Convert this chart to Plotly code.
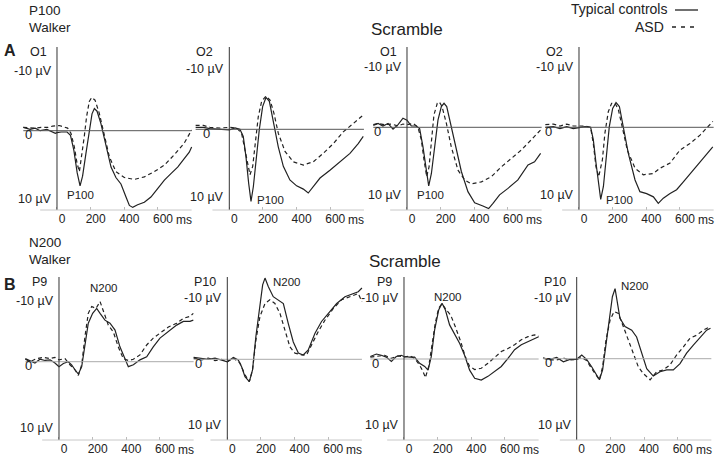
import plotly.graph_objects as go

W, H = 720, 457
FONT = "Liberation Sans, Arial, sans-serif"
INK = "#222222"

# ERP waveforms: time in ms, amplitude in µV (negative is drawn up)
# --- A: P100, occipital ---
a1_tc_ms = [-200, -160, -130, -100, -60, -30, -10, 0, 25, 60, 80, 100, 120, 137, 152, 172, 192, 208, 222, 238, 261,
            291, 321, 350, 380, 410, 430, 450, 479, 519, 558, 598, 638, 677, 717, 756, 786, 800]
a1_tc_uv = [-0.5, -0.2, -0.4, 0.0, -0.2, 0.2, 0.4, 0.3, 0.2, 0.2, 0.7, 3.0, 6.5, 8.5, 7.0, 3.5, 0.0, -2.6, -3.4, -3.0, -1.1,
            2.5, 5.6, 7.2, 8.2, 10.2, 11.5, 11.8, 11.4, 11.0, 10.2, 8.9, 7.6, 6.6, 5.6, 4.3, 3.3, 2.5]
a1_asd_ms = [-200, -135, -95, -55, -26, 14, 63, 83, 103, 119, 133, 146, 162, 176, 192, 206, 226, 251, 281, 311, 350,
             400, 459, 519, 578, 638, 697, 756, 800]
a1_asd_uv = [-0.5, -0.4, -0.5, -0.5, -0.7, -0.8, -0.4, 0.4, 2.5, 5.0, 6.3, 4.0, 0.9, -2.2, -4.5, -5.1, -4.7, -2.7, 0.9,
             4.0, 6.3, 7.2, 7.5, 7.1, 6.3, 5.3, 3.7, 1.9, -0.1]

a2_tc_ms = [-200, -154, -115, -75, -36, 0, 34, 63, 83, 99, 115, 129, 143, 158, 178, 198, 218, 238, 261, 291, 321, 360,
            400, 440, 469, 499, 539, 598, 657, 717, 766, 796]
a2_tc_uv = [-0.3, -0.3, -0.1, 0.0, 0.0, 0.1, -0.2, 0.0, 1.1, 4.2, 8.3, 11.1, 8.8, 5.2, 0.1, -3.5, -4.9, -4.3, -1.4, 2.7,
            5.7, 7.8, 8.7, 9.2, 9.8, 8.8, 7.5, 6.3, 5.0, 3.7, 2.2, 1.1]
a2_asd_ms = [-200, -154, -115, -55, 0, 44, 73, 93, 109, 123, 139, 156, 172, 192, 218, 242, 265, 291, 331, 380, 440,
             499, 558, 618, 677, 737, 796]
a2_asd_uv = [-0.6, -0.6, -0.3, -0.2, -0.3, -0.2, 0.6, 3.2, 5.7, 7.0, 5.7, 1.6, -1.9, -4.3, -5.1, -4.5, -2.5, 0.6, 3.4,
             5.0, 5.5, 5.0, 3.7, 2.2, 0.4, -0.9, -2.2]

a3_tc_ms = [-200, -172, -143, -113, -83, -53, -24, 0, 26, 55, 75, 95, 115, 129, 145, 164, 184, 204, 220, 236, 259,
            287, 323, 362, 402, 451, 485, 511, 550, 600, 659, 719, 758, 794]
a3_tc_uv = [-0.3, -0.6, -0.2, -0.6, 0.3, -0.4, -1.4, -1.1, -0.2, -0.2, 0.2, 3.0, 6.6, 9.0, 7.1, 3.0, -1.1, -3.2, -3.7,
            -3.2, -0.6, 3.0, 6.8, 9.9, 11.6, 12.1, 12.5, 11.7, 10.4, 9.4, 8.1, 5.8, 5.3, 4.0]
a3_asd_ms = [-200, -172, -133, -93, -53, -24, 0, 36, 65, 85, 101, 117, 131, 145, 160, 180, 192, 208, 234, 263, 303,
             343, 382, 442, 501, 560, 620, 679, 739, 794]
a3_asd_uv = [-0.4, -0.6, -0.4, -0.5, -0.2, -0.5, -0.4, -0.6, 0.0, 1.9, 5.0, 7.6, 6.1, 1.9, -1.9, -3.7, -3.9, -3.2,
             -0.6, 3.0, 6.6, 8.1, 8.7, 8.4, 7.6, 6.1, 4.8, 3.5, 1.9, 0.4]

a4_tc_ms = [-200, -152, -113, -73, -34, 0, 36, 69, 85, 101, 117, 129, 145, 160, 180, 200, 220, 240, 263, 293, 333,
            362, 402, 442, 471, 501, 541, 580, 620, 679, 739, 795]
a4_tc_uv = [0.0, -0.1, 0.2, -0.1, 0.2, 0.0, -0.1, 0.0, 1.9, 5.5, 9.1, 11.1, 9.1, 5.0, -0.1, -2.9, -3.8, -3.2, -0.1,
            4.0, 8.1, 9.9, 10.2, 10.7, 11.7, 10.9, 10.2, 9.6, 8.4, 6.6, 4.8, 3.0]
a4_asd_ms = [-200, -152, -113, -73, -34, 0, 36, 69, 85, 101, 117, 139, 154, 174, 194, 214, 234, 259, 287, 333, 382,
             442, 481, 541, 600, 659, 719, 795]
a4_asd_uv = [-0.4, -0.5, -0.2, -0.5, -0.2, -0.2, -0.2, 0.0, 2.5, 6.1, 7.6, 5.0, 0.9, -2.4, -3.7, -3.7, -2.7, 0.2,
             3.5, 6.3, 7.3, 7.1, 6.3, 5.5, 3.5, 2.5, 1.2, -0.9]

# --- B: N200, parietal ---
b1_tc_ms = [-200, -172, -143, -113, -83, -53, -24, 0, 26, 55, 75, 95, 115, 135, 154, 174, 200, 224, 244, 273, 303,
            333, 362, 392, 412, 442, 481, 521, 560, 600, 650, 699, 739, 778, 798]
b1_tc_uv = [-0.5, -0.2, 0.2, -0.4, -0.2, -0.3, 0.2, 0.8, 0.3, 0.0, 0.5, 1.3, 2.0, 0.8, -3.0, -6.2, -7.8, -8.6, -7.8,
            -6.7, -6.2, -5.1, -2.4, -0.3, 0.8, 0.5, -0.3, -0.8, -2.4, -3.8, -4.8, -5.9, -6.5, -6.5, -6.7]
b1_asd_ms = [-200, -172, -133, -93, -53, -24, 0, 36, 65, 95, 115, 135, 154, 174, 194, 220, 244, 267, 293, 323, 352,
             382, 412, 442, 481, 521, 560, 600, 650, 699, 739, 778, 798]
b1_asd_uv = [-0.4, 0.0, -0.5, -0.7, -0.5, -0.7, -0.3, -0.5, 0.5, 1.3, 2.2, 0.5, -4.0, -7.8, -8.9, -8.6, -9.7, -7.8,
             -5.9, -4.8, -2.4, -0.5, -0.2, -0.4, -1.1, -2.7, -3.8, -4.6, -5.6, -6.2, -7.0, -7.3, -7.8]

b2_tc_ms = [-200, -152, -113, -73, -34, 0, 36, 65, 85, 105, 131, 150, 170, 194, 210, 224, 244, 273, 303, 333, 362,
            392, 422, 451, 481, 521, 560, 600, 650, 699, 749, 778, 800]
b2_tc_uv = [-0.3, -0.2, 0.0, -0.2, 0.1, 0.4, -0.3, 0.1, 1.2, 2.8, 3.6, 1.7, -3.7, -9.0, -12.0, -13.1, -11.7, -10.1,
            -9.6, -9.0, -5.8, -2.8, -1.0, -0.7, -1.5, -4.2, -6.1, -7.4, -9.0, -10.1, -10.6, -10.9, -11.5]
b2_asd_ms = [-200, -152, -113, -73, -34, 0, 36, 75, 105, 131, 150, 170, 194, 224, 253, 283, 313, 343, 372, 402, 442,
             471, 501, 541, 580, 630, 679, 729, 778, 800]
b2_asd_uv = [-0.2, 0.1, -0.2, 0.2, 0.0, 0.4, -0.2, 0.6, 2.5, 3.6, 1.7, -3.1, -6.9, -9.0, -9.6, -9.0, -7.4, -4.7, -2.0,
             -1.0, -0.7, -0.7, -2.3, -4.5, -6.3, -8.2, -9.6, -10.1, -10.6, -9.3]

b3_tc_ms = [-200, -164, -135, -105, -75, -46, -16, 0, 34, 63, 93, 123, 143, 162, 182, 206, 226, 246, 271, 301, 331,
            360, 390, 420, 459, 499, 539, 578, 618, 657, 697, 737, 776, 800]
b3_tc_uv = [-0.4, -0.8, -0.6, -0.3, 0.4, -0.4, -0.6, -0.4, -0.3, -0.3, 0.7, 1.2, 1.8, -0.4, -4.7, -7.9, -9.0, -7.9,
            -5.5, -3.9, -2.5, -0.6, 1.8, 3.1, 3.4, 2.8, 2.0, 1.2, -0.1, -1.5, -2.3, -2.8, -3.3, -3.6]
b3_asd_ms = [-200, -154, -115, -75, -36, 0, 34, 63, 93, 113, 127, 147, 166, 186, 206, 226, 252, 277, 305, 337, 364,
             390, 420, 459, 499, 539, 578, 618, 657, 697, 737, 776, 800]
b3_asd_uv = [-0.3, -0.5, -0.6, -0.1, -0.5, -0.3, -0.5, -0.1, 1.0, 2.0, 3.0, 1.2, -2.0, -5.8, -8.2, -8.9, -7.9, -7.1,
             -5.2, -2.8, -0.4, 1.2, 1.7, 1.5, 0.7, -0.3, -1.2, -1.7, -2.3, -3.1, -3.6, -3.9, -3.7]

b4_tc_ms = [-200, -158, -119, -79, -40, 0, 30, 59, 89, 119, 135, 154, 174, 194, 212, 228, 242, 257, 287, 327, 356,
            376, 396, 416, 455, 495, 535, 574, 614, 653, 693, 733, 772, 795]
b4_tc_uv = [-0.1, 0.1, -0.2, 0.5, 0.1, 0.1, -0.6, 0.1, 1.3, 2.8, 3.4, 1.8, -2.5, -6.8, -10.0, -11.3, -9.2, -6.5, -5.2,
            -4.6, -3.5, -1.7, 0.2, 1.6, 2.8, 2.1, 1.8, 1.8, 0.8, -0.9, -2.2, -3.5, -4.6, -4.9]
b4_asd_ms = [-200, -158, -119, -79, -40, 0, 30, 59, 89, 119, 135, 154, 174, 198, 222, 248, 277, 307, 337, 366, 396,
             436, 475, 515, 554, 594, 634, 673, 713, 752, 795]
b4_asd_uv = [-0.1, 0.2, 0.2, -0.1, 0.2, 0.1, -0.2, 0.3, 1.6, 2.9, 3.4, 1.3, -3.0, -6.2, -7.6, -7.3, -5.2, -3.0, -0.9,
             1.3, 2.4, 3.4, 2.1, 1.8, 1.0, -0.6, -1.9, -3.3, -3.8, -4.6, -5.2]

TICKS = [0, 200, 400, 600]
TICK_TEXT = ["0", "200", "400", "600"]

# pixel geometry of the two rows (top/bottom of the vertical axis, px per µV)
ROWS = {
    "A": dict(top=47, bottom=210, scale=6.5, zcolor="#555555", peak="P100"),
    "B": dict(top=277, bottom=440, scale=6.2, zcolor="#aaaaaa", peak="N200"),
}
MS_PX = 0.1683  # px per ms

# row, electrode, traces, x of the 0 ms axis, y of the 0 µV line, peak label pos, "0" label x
panels = [
    ("A", "O1", (a1_tc_ms, a1_tc_uv), (a1_asd_ms, a1_asd_uv), 57, 130.7, (80, 195), 23),
    ("A", "O2", (a2_tc_ms, a2_tc_uv), (a2_asd_ms, a2_asd_uv), 229.3, 129.3, (270, 200), 201),
    ("A", "O1", (a3_tc_ms, a3_tc_uv), (a3_asd_ms, a3_asd_uv), 407, 127.3, (430, 195), 372),
    ("A", "O2", (a4_tc_ms, a4_tc_uv), (a4_asd_ms, a4_asd_uv), 579, 127.3, (619, 200), 543),
    ("B", "P9", (b1_tc_ms, b1_tc_uv), (b1_asd_ms, b1_asd_uv), 59, 361.7, (104, 288), 23),
    ("B", "P10", (b2_tc_ms, b2_tc_uv), (b2_asd_ms, b2_asd_uv), 227.3, 359.3, (287, 282), 193),
    ("B", "P9", (b3_tc_ms, b3_tc_uv), (b3_asd_ms, b3_asd_uv), 404, 359, (448, 297), 370),
    ("B", "P10", (b4_tc_ms, b4_tc_uv), (b4_asd_ms, b4_asd_uv), 576.7, 358.7, (635, 286), 543),
]


def px(x):
    return x / W


def py(y):
    return 1 - y / H


def label(x, y, text, size=12.5, anchor="left", bold=False):
    return dict(x=px(x), y=py(y), xref="paper", yref="paper", text=f"<b>{text}</b>" if bold else text,
                showarrow=False, xanchor=anchor, yanchor="middle",
                font=dict(family=FONT, size=size, color=INK))


fig = go.Figure()
shapes, annotations = [], []
layout = {}

for i, (row, elec, tc, asd, x0, zero, peak_pos, zero_x) in enumerate(panels, start=1):
    r = ROWS[row]
    sfx = "" if i == 1 else str(i)
    xa, ya = f"x{sfx}", f"y{sfx}"
    for (ms, uv), dash in ((tc, None), (asd, "4px,3px")):
        fig.add_trace(go.Scatter(x=ms, y=uv, mode="lines", xaxis=xa, yaxis=ya, showlegend=False, hoverinfo="skip",
                                 line=dict(color=INK, width=1.2, dash=dash)))
    layout[f"xaxis{sfx}"] = dict(
        domain=[px(x0 - 210 * MS_PX), px(x0 + 810 * MS_PX)], range=[-210, 810], anchor=ya,
        showgrid=False, zeroline=False, showline=False, tickvals=TICKS, ticktext=TICK_TEXT,
        ticks="inside", ticklen=3, tickcolor="#bbbbbb", ticklabelshift=5,
        tickfont=dict(family=FONT, size=12, color=INK))
    layout[f"yaxis{sfx}"] = dict(
        domain=[py(r["bottom"]), py(r["top"])], anchor=xa, visible=False,
        range=[(r["bottom"] - zero) / r["scale"], (r["top"] - zero) / r["scale"]])

    shapes += [
        dict(type="line", xref=xa, yref=ya, x0=-200, x1=800, y0=0, y1=0, line=dict(color=r["zcolor"], width=1)),
        dict(type="line", xref=xa, yref=f"{ya} domain", x0=0, x1=0, y0=0, y1=1, line=dict(color="#333333", width=1)),
        dict(type="line", xref=xa, yref=f"{ya} domain", x0=-100, x1=800, y0=0, y1=0,
             line=dict(color="#c8c8c8", width=1)),
    ]
    top_y = r["top"] + 5
    annotations += [
        label(x0 - 29 if elec in ("O1", "P9") else x0 - 35, top_y, elec, size=12.5),
        label(x0 - 3, zero - 60 if row == "A" else zero - 61, "-10 µV", anchor="right"),
        label(zero_x, zero + 4, "0", size=13),
        label(x0 - 3, zero + 68 if row == "A" else zero + 66, "10 µV", anchor="right"),
        label(peak_pos[0], peak_pos[1], r["peak"], size=11.5, anchor="center"),
        # unit sits just right of the "600" tick label
        dict(x=600, y=0, xref=xa, yref=f"{ya} domain", text="ms", showarrow=False, xanchor="left",
             xshift=16, yanchor="top", yshift=-1, font=dict(family=FONT, size=12, color=INK)),
    ]

# headers
annotations += [
    label(27, 10, "P100", size=13.5), label(27, 27, "Walker", size=13.5),
    label(2, 50, "A", size=16, bold=True), label(369, 29, "Scramble", size=17),
    label(27, 243, "N200", size=13.5), label(27, 259, "Walker", size=13.5),
    label(2, 284, "B", size=16, bold=True), label(367, 261, "Scramble", size=17),
    label(669, 9, "Typical controls", size=14, anchor="right"),
    label(666, 27, "ASD", size=14, anchor="right"),
]
shapes += [
    dict(type="line", xref="paper", yref="paper", x0=px(675), x1=px(698), y0=py(10), y1=py(10),
         line=dict(color=INK, width=1.3)),
    dict(type="line", xref="paper", yref="paper", x0=px(672), x1=px(699), y0=py(27), y1=py(27),
         line=dict(color=INK, width=1.3, dash="4px,5px")),
]

fig.update_layout(
    width=W, height=H, margin=dict(l=0, r=0, t=0, b=0),
    paper_bgcolor="white", plot_bgcolor="rgba(0,0,0,0)",
    shapes=shapes, annotations=annotations, showlegend=False, **layout)

# the page's default 8px body margin would push the 720x457 figure off the window edge
fig.write_html("out.html", config={"displayModeBar": False},
               post_script="document.body.style.margin = '0';")
